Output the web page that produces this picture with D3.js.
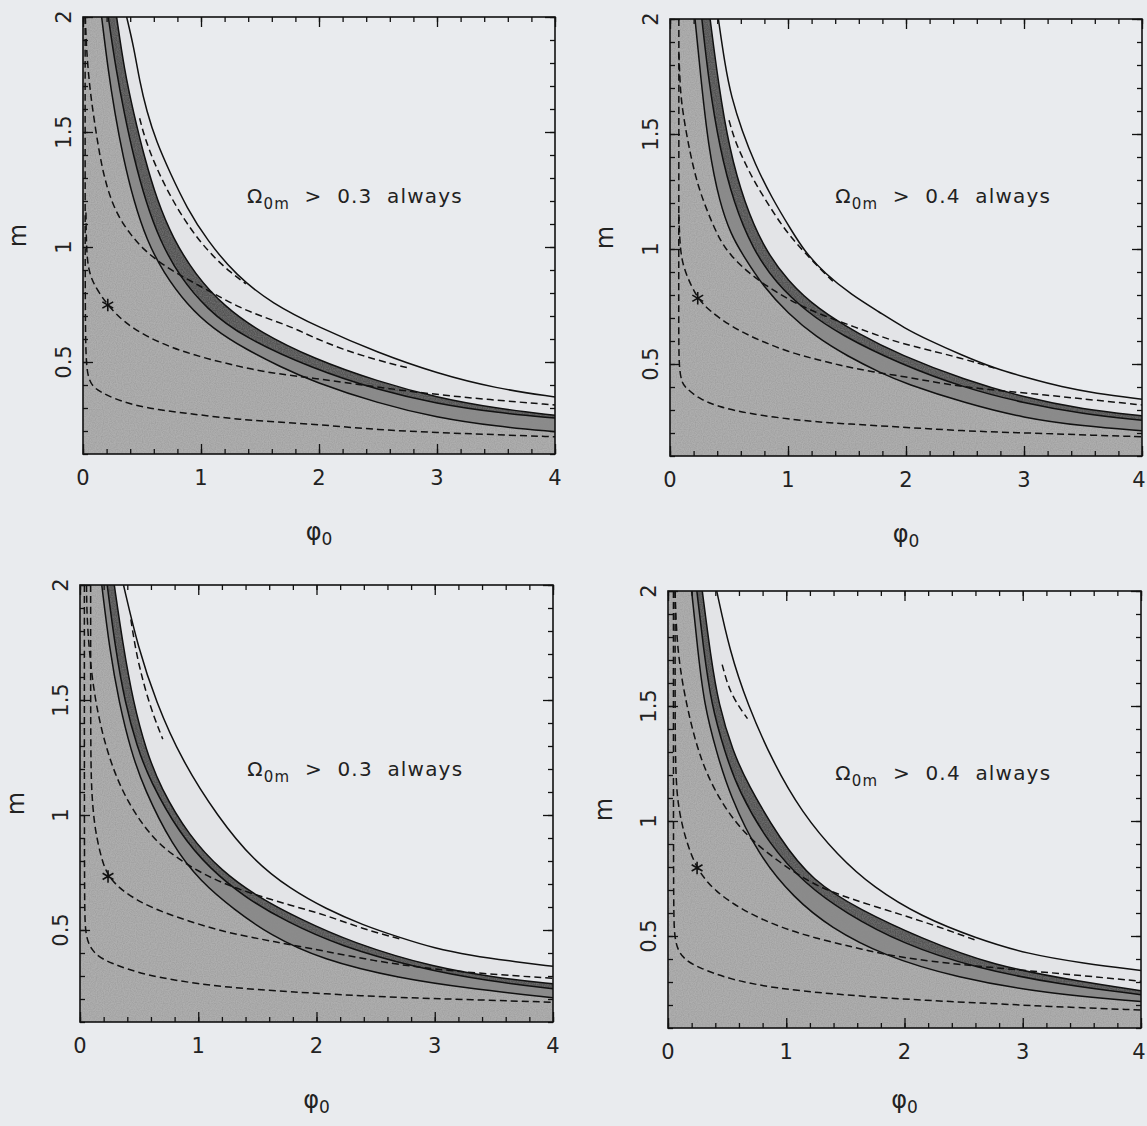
<!DOCTYPE html>
<html lang="en">
<head>
<meta charset="utf-8" />
<title>m vs phi0 constraints</title>
<script src="https://d3js.org/d3.v7.min.js"></script>
<style>
  body { margin: 0; background: #e9ebee; }
  svg { display: block; }
  text { font-family: "DejaVu Sans", sans-serif; fill: #222; }
</style>
</head>
<body>
<script>
// tick labels
const xTicks = [0, 1, 2, 3, 4];
const yTicks = [0.5, 1, 1.5, 2];
const thresholds = ["0.3", "0.4", "0.3", "0.4"];

// ---- panel 1 (top left) ----  points are [phi0, m]
const p1S1 = [[0.158,2.0],[0.21,1.78],[0.27,1.58],[0.34,1.39],[0.43,1.2],[0.54,1.03],[0.68,0.89],[0.88,0.75],[1.1,0.645],[1.38,0.555],[1.67,0.48],[1.95,0.415],[2.5,0.32],[3.0,0.258],[3.5,0.22],[4.0,0.197]];
const p1S2 = [[0.214,2.0],[0.28,1.77],[0.35,1.58],[0.43,1.39],[0.53,1.2],[0.65,1.03],[0.82,0.87],[1.05,0.73],[1.35,0.61],[1.95,0.47],[2.5,0.378],[3.0,0.318],[3.5,0.28],[4.0,0.256]];
const p1S3 = [[0.285,2.0],[0.35,1.77],[0.43,1.58],[0.52,1.39],[0.63,1.2],[0.76,1.04],[0.95,0.88],[1.2,0.74],[1.5,0.63],[1.95,0.515],[2.5,0.415],[3.0,0.345],[3.5,0.298],[4.0,0.268]];
const p1S4 = [[0.37,2.0],[0.43,1.87],[0.48,1.72],[0.54,1.59],[0.62,1.46],[0.74,1.32],[0.88,1.17],[1.05,1.03],[1.3,0.875],[1.6,0.755],[2.0,0.65],[2.5,0.54],[3.0,0.45],[3.5,0.385],[4.0,0.348]];
const p1A = [[0.018,2.0],[0.018,1.2],[0.019,0.7],[0.025,0.5],[0.045,0.43],[0.08,0.395],[0.144,0.371],[0.257,0.342],[0.426,0.313],[0.651,0.291],[0.876,0.277],[1.1,0.263],[1.33,0.251],[1.55,0.242],[2.0,0.228],[2.5,0.205],[3.0,0.193],[3.5,0.184],[4.0,0.175]];
const p1B = [[0.025,1.15],[0.03,0.95],[0.06,0.88],[0.087,0.845],[0.144,0.795],[0.21,0.748],[0.341,0.675],[0.539,0.61],[0.764,0.56],[0.99,0.523],[1.215,0.494],[1.44,0.467],[1.67,0.447],[1.95,0.43],[2.3,0.405],[2.85,0.366],[3.4,0.338],[4.0,0.313]];
const p1C = [[0.02,2.0],[0.03,1.85],[0.059,1.68],[0.1,1.535],[0.144,1.39],[0.2,1.26],[0.285,1.143],[0.398,1.057],[0.51,0.99],[0.68,0.92],[0.9,0.855],[1.1,0.8],[1.33,0.735],[1.56,0.69],[1.78,0.65],[1.95,0.607],[2.2,0.555],[2.48,0.51],[2.75,0.475]];
const p1D = [[0.48,1.56],[0.52,1.48],[0.6,1.37],[0.7,1.26],[0.83,1.14],[0.98,1.03],[1.12,0.95],[1.25,0.89],[1.38,0.84]];
const p1Star = [0.21, 0.748];

// ---- panel 2 (top right) ----
const p2S1 = [[0.212,2.0],[0.26,1.75],[0.325,1.442],[0.42,1.2],[0.52,1.06],[0.61,0.98],[0.8,0.83],[1.0,0.72],[1.23,0.62],[1.51,0.532],[1.79,0.46],[1.99,0.416],[2.5,0.33],[3.0,0.265],[3.5,0.23],[4.0,0.21]];
const p2S2 = [[0.27,2.0],[0.33,1.72],[0.42,1.44],[0.54,1.2],[0.7,1.0],[0.9,0.85],[1.15,0.73],[1.45,0.625],[1.95,0.5],[2.5,0.395],[3.0,0.33],[3.5,0.283],[4.0,0.255]];
const p2S3 = [[0.34,2.0],[0.41,1.72],[0.5,1.44],[0.63,1.2],[0.8,1.0],[1.0,0.86],[1.25,0.74],[1.6,0.63],[1.95,0.54],[2.5,0.43],[3.0,0.355],[3.5,0.303],[4.0,0.275]];
const p2S4 = [[0.41,2.0],[0.466,1.8],[0.52,1.66],[0.61,1.514],[0.72,1.37],[0.86,1.225],[1.03,1.08],[1.14,0.99],[1.31,0.894],[1.54,0.8],[1.77,0.727],[1.99,0.655],[2.19,0.604],[2.47,0.539],[2.75,0.481],[3.04,0.438],[3.32,0.4],[3.6,0.373],[4.0,0.347]];
const p2A = [[0.075,2.0],[0.075,1.2],[0.073,0.6],[0.078,0.48],[0.1,0.42],[0.127,0.4],[0.24,0.35],[0.41,0.314],[0.66,0.285],[0.95,0.264],[1.23,0.249],[1.51,0.239],[1.93,0.227],[2.47,0.209],[3.04,0.2],[3.6,0.19],[4.0,0.184]];
const p2B = [[0.075,1.15],[0.085,1.0],[0.113,0.923],[0.17,0.85],[0.235,0.786],[0.325,0.735],[0.52,0.662],[0.75,0.604],[1.0,0.553],[1.26,0.517],[1.48,0.49],[1.71,0.466],[1.99,0.445],[2.25,0.42],[2.51,0.4],[2.75,0.386],[3.03,0.373],[3.32,0.358],[3.6,0.343],[4.0,0.322]];
const p2C = [[0.075,1.85],[0.085,1.72],[0.1,1.616],[0.17,1.413],[0.24,1.268],[0.325,1.152],[0.42,1.04],[0.52,0.967],[0.69,0.885],[0.89,0.815],[1.08,0.76],[1.3,0.71],[1.57,0.66],[1.79,0.619],[1.96,0.59],[2.19,0.561],[2.47,0.525],[2.75,0.482]];
const p2D = [[0.5,1.56],[0.55,1.47],[0.63,1.38],[0.71,1.297],[0.83,1.196],[0.94,1.109],[1.05,1.036],[1.14,0.986],[1.27,0.915],[1.38,0.86]];
const p2Star = [0.235, 0.786];

// ---- panel 3 (bottom left) ----
const p3S1 = [[0.184,2.0],[0.25,1.72],[0.33,1.49],[0.43,1.28],[0.54,1.116],[0.78,0.866],[1.02,0.71],[1.3,0.59],[1.6,0.48],[2.05,0.37],[2.7,0.29],[3.31,0.245],[4.0,0.205]];
const p3S2 = [[0.23,2.0],[0.3,1.72],[0.38,1.49],[0.48,1.3],[0.59,1.15],[0.84,0.92],[1.1,0.765],[1.4,0.64],[1.75,0.535],[2.2,0.43],[2.85,0.335],[3.46,0.277],[4.0,0.245]];
const p3S3 = [[0.29,2.0],[0.36,1.75],[0.45,1.49],[0.56,1.28],[0.68,1.12],[0.92,0.91],[1.2,0.755],[1.5,0.645],[1.85,0.55],[2.3,0.445],[3.0,0.335],[3.6,0.287],[4.0,0.266]];
const p3S4 = [[0.368,2.0],[0.49,1.73],[0.644,1.49],[0.858,1.24],[1.165,0.992],[1.47,0.8],[1.78,0.678],[2.08,0.592],[2.39,0.522],[2.7,0.468],[3.0,0.42],[3.31,0.389],[3.62,0.366],[4.0,0.342]];
const p3A = [[0.037,2.0],[0.037,1.2],[0.038,0.6],[0.045,0.49],[0.077,0.43],[0.14,0.39],[0.245,0.358],[0.55,0.303],[1.01,0.264],[1.47,0.241],[2.08,0.222],[2.7,0.206],[3.31,0.197],[4.0,0.186]];
const p3B = [[0.09,2.0],[0.09,1.5],[0.092,1.179],[0.105,1.05],[0.129,0.929],[0.184,0.804],[0.237,0.733],[0.368,0.663],[0.613,0.593],[0.92,0.538],[1.226,0.491],[1.53,0.46],[1.78,0.436],[2.1,0.405],[2.5,0.365],[2.9,0.335],[3.4,0.31],[4.0,0.29]];
const p3C = [[0.055,2.0],[0.06,1.8],[0.123,1.49],[0.245,1.24],[0.4,1.054],[0.613,0.898],[0.8,0.82],[1.0,0.755],[1.2,0.705],[1.44,0.66],[1.78,0.607],[2.08,0.565],[2.39,0.505],[2.7,0.462]];
const p3D = [[0.43,1.85],[0.47,1.72],[0.51,1.63],[0.56,1.53],[0.63,1.42],[0.7,1.33]];
const p3Star = [0.237, 0.733];

// ---- panel 4 (bottom right) ----
const p4S1 = [[0.2,2.0],[0.25,1.75],[0.305,1.507],[0.41,1.3],[0.52,1.116],[0.763,0.85],[1.07,0.663],[1.37,0.538],[1.83,0.413],[2.44,0.319],[3.2,0.25],[4.0,0.215]];
const p4S2 = [[0.244,2.0],[0.3,1.75],[0.366,1.507],[0.48,1.3],[0.595,1.132],[0.855,0.898],[1.16,0.726],[1.5,0.6],[1.98,0.467],[2.6,0.36],[3.36,0.285],[4.0,0.245]];
const p4S3 = [[0.29,2.0],[0.36,1.72],[0.427,1.507],[0.55,1.3],[0.672,1.163],[0.947,0.92],[1.22,0.74],[1.62,0.615],[2.14,0.49],[2.75,0.37],[3.51,0.3],[4.0,0.262]];
const p4S4 = [[0.412,2.0],[0.52,1.742],[0.672,1.507],[0.886,1.257],[1.13,1.038],[1.435,0.85],[1.74,0.71],[2.14,0.585],[2.6,0.491],[3.05,0.42],[3.51,0.382],[4.0,0.35]];
const p4A = [[0.046,2.0],[0.046,1.2],[0.047,0.6],[0.055,0.49],[0.09,0.43],[0.15,0.395],[0.244,0.366],[0.52,0.311],[0.916,0.272],[1.37,0.249],[1.98,0.225],[2.6,0.21],[3.2,0.194],[4.0,0.178]];
const p4B = [[0.06,2.0],[0.06,1.6],[0.061,1.195],[0.092,1.04],[0.153,0.913],[0.244,0.788],[0.397,0.694],[0.641,0.608],[0.947,0.538],[1.25,0.49],[1.56,0.452],[1.83,0.42],[2.2,0.39],[2.75,0.362],[3.36,0.335],[4.0,0.303]];
const p4C = [[0.06,2.0],[0.076,1.74],[0.153,1.507],[0.275,1.257],[0.458,1.07],[0.672,0.929],[0.947,0.819],[1.22,0.725],[1.53,0.663],[1.98,0.592],[2.29,0.54],[2.6,0.482]];
const p4D = [[0.458,1.68],[0.5,1.6],[0.55,1.54],[0.61,1.49],[0.672,1.445]];
const p4Star = [0.246, 0.796];

const w = 1147, h = 1126;

// pixel box of each plot frame, title positions
const frames = [
  { x: [83, 555], y: [17, 454], mx: 18, fy: 86, lx: 1.39, ly: 1.19 },
  { x: [670, 1142], y: [19, 456], mx: 605, fy: 86, lx: 1.4, ly: 1.2 },
  { x: [80, 553], y: [585, 1022], mx: 16, fy: 86, lx: 1.415, ly: 1.17 },
  { x: [668, 1141], y: [591, 1028], mx: 604, fy: 80, lx: 1.415, ly: 1.18 }
];

const panels = [
  { S: [p1S1, p1S2, p1S3, p1S4], dashed: [p1A, p1B, p1C, p1D], star: p1Star },
  { S: [p2S1, p2S2, p2S3, p2S4], dashed: [p2A, p2B, p2C, p2D], star: p2Star },
  { S: [p3S1, p3S2, p3S3, p3S4], dashed: [p3A, p3B, p3C, p3D], star: p3Star },
  { S: [p4S1, p4S2, p4S3, p4S4], dashed: [p4A, p4B, p4C, p4D], star: p4Star }
];

// fills under S4, S3, S2, S1 (painted in that order)
const fillColors = ["#e3e4e7", "#555555", "#8b8b8b", "#aeaeae"];

const svg = d3.select("body").append("svg").attr("width", w).attr("height", h);
const defs = svg.append("defs");

// faint scan grain for the shaded areas
const grain = defs.append("filter").attr("id", "grain")
  .attr("x", 0).attr("y", 0).attr("width", "100%").attr("height", "100%");
grain.append("feTurbulence")
  .attr("type", "fractalNoise").attr("baseFrequency", 0.85)
  .attr("numOctaves", 1).attr("seed", 4).attr("result", "n");
grain.append("feColorMatrix")
  .attr("in", "n").attr("type", "matrix")
  .attr("values", "0 0 0 0 0.25  0 0 0 0 0.25  0 0 0 0 0.25  0 0 0 0.9 -0.3")
  .attr("result", "dots");
grain.append("feComposite")
  .attr("in", "dots").attr("in2", "SourceGraphic").attr("operator", "in")
  .attr("result", "d2");
const gm = grain.append("feMerge");
gm.append("feMergeNode").attr("in", "SourceGraphic");
gm.append("feMergeNode").attr("in", "d2");

panels.forEach((p, i) => {
  const f = frames[i];
  const x = d3.scaleLinear().domain([0, 4]).range(f.x);
  const y = d3.scaleLinear().domain([0.1, 2]).range([f.y[1], f.y[0]]);

  defs.append("clipPath").attr("id", "clip" + i)
    .append("rect")
    .attr("x", f.x[0]).attr("y", f.y[0])
    .attr("width", f.x[1] - f.x[0]).attr("height", f.y[1] - f.y[0]);

  const g = svg.append("g");
  const plot = g.append("g").attr("clip-path", "url(#clip" + i + ")");

  const line = d3.line()
    .x(d => x(d[0]))
    .y(d => y(d[1]))
    .curve(d3.curveBasis);

  // region left/below a boundary curve
  const region = pts =>
    line(pts) +
    "L" + x(4.3) + "," + y(0) +
    "L" + x(-0.3) + "," + y(0) +
    "L" + x(-0.3) + "," + y(2.3) +
    "L" + x(pts[0][0]) + "," + y(2.3) + "Z";

  plot.append("path")
    .attr("d", region(p.S[3]))
    .attr("fill", fillColors[0]);

  const shade = plot.append("g").attr("filter", "url(#grain)");
  [2, 1, 0].forEach((k, j) => {
    shade.append("path")
      .attr("d", region(p.S[k]))
      .attr("fill", fillColors[j + 1]);
  });

  // solid boundaries
  plot.selectAll("path.solid")
    .data(p.S)
    .enter()
    .append("path")
    .attr("class", "solid")
    .attr("d", line)
    .attr("fill", "none")
    .attr("stroke", "#111")
    .attr("stroke-width", 1.5);

  // dashed contours
  plot.selectAll("path.dash")
    .data(p.dashed)
    .enter()
    .append("path")
    .attr("class", "dash")
    .attr("d", line)
    .attr("fill", "none")
    .attr("stroke", "#111")
    .attr("stroke-width", 1.5)
    .attr("stroke-dasharray", "7,4");

  // best fit point
  plot.append("path")
    .attr("d", d3.symbol(d3.symbolAsterisk, 110)())
    .attr("transform", "translate(" + x(p.star[0]) + "," + y(p.star[1]) + ")")
    .attr("fill", "none")
    .attr("stroke", "#111")
    .attr("stroke-width", 1.6);

  // ticks, pointing inward on all four sides
  const xMinor = d3.range(0, 4.001, 0.2);
  const yMinor = d3.range(0.1, 2.001, 0.1);
  const tickG = (axis, tx, ty) => {
    const a = g.append("g").attr("transform", "translate(" + tx + "," + ty + ")").call(axis);
    a.select(".domain").remove();
    a.selectAll("line").attr("stroke", "#111").attr("stroke-width", 1.3);
  };
  tickG(d3.axisBottom(x).tickValues(xTicks).tickSize(-10).tickFormat(""), 0, f.y[1]);
  tickG(d3.axisBottom(x).tickValues(xMinor).tickSize(-5).tickFormat(""), 0, f.y[1]);
  tickG(d3.axisTop(x).tickValues(xTicks).tickSize(-10).tickFormat(""), 0, f.y[0]);
  tickG(d3.axisTop(x).tickValues(xMinor).tickSize(-5).tickFormat(""), 0, f.y[0]);
  tickG(d3.axisLeft(y).tickValues(yTicks).tickSize(-10).tickFormat(""), f.x[0], 0);
  tickG(d3.axisLeft(y).tickValues(yMinor).tickSize(-5).tickFormat(""), f.x[0], 0);
  tickG(d3.axisRight(y).tickValues(yTicks).tickSize(-10).tickFormat(""), f.x[1], 0);
  tickG(d3.axisRight(y).tickValues(yMinor).tickSize(-5).tickFormat(""), f.x[1], 0);

  // frame
  g.append("rect")
    .attr("x", f.x[0]).attr("y", f.y[0])
    .attr("width", f.x[1] - f.x[0]).attr("height", f.y[1] - f.y[0])
    .attr("fill", "none")
    .attr("stroke", "#111")
    .attr("stroke-width", 1.6);

  // tick labels (keep the last one inside the page)
  g.selectAll("text.xl")
    .data(xTicks)
    .enter()
    .append("text")
    .attr("class", "xl")
    .attr("x", d => Math.min(x(d), w - 8))
    .attr("y", f.y[1] + 31)
    .attr("text-anchor", "middle")
    .attr("font-size", 21)
    .text(d => d);

  g.selectAll("text.yl")
    .data(yTicks)
    .enter()
    .append("text")
    .attr("class", "yl")
    .attr("transform", d => "translate(" + (f.x[0] - 12) + "," + y(d) + ") rotate(-90)")
    .attr("text-anchor", "middle")
    .attr("font-size", 21)
    .text(d => d);

  // axis titles
  g.append("text")
    .attr("transform", "translate(" + (f.mx + 8) + "," + (f.y[0] + f.y[1]) / 2 + ") rotate(-90)")
    .attr("text-anchor", "middle")
    .attr("font-size", 24)
    .text("m");

  const xt = g.append("text")
    .attr("x", (f.x[0] + f.x[1]) / 2)
    .attr("y", f.y[1] + f.fy)
    .attr("text-anchor", "middle")
    .attr("font-size", 24);
  xt.append("tspan").text("φ");
  xt.append("tspan").attr("dy", 5).attr("font-size", 17).text("0");

  // annotation
  const an = g.append("text")
    .attr("x", x(f.lx))
    .attr("y", y(f.ly))
    .attr("font-size", 20)
    .attr("letter-spacing", 1.2)
    .attr("word-spacing", 7);
  an.append("tspan").text("Ω");
  an.append("tspan").attr("dy", 6).attr("font-size", 15).text("0m");
  an.append("tspan").attr("dy", -6).text(" > " + thresholds[i] + " always");
});
</script>
</body>
</html>
